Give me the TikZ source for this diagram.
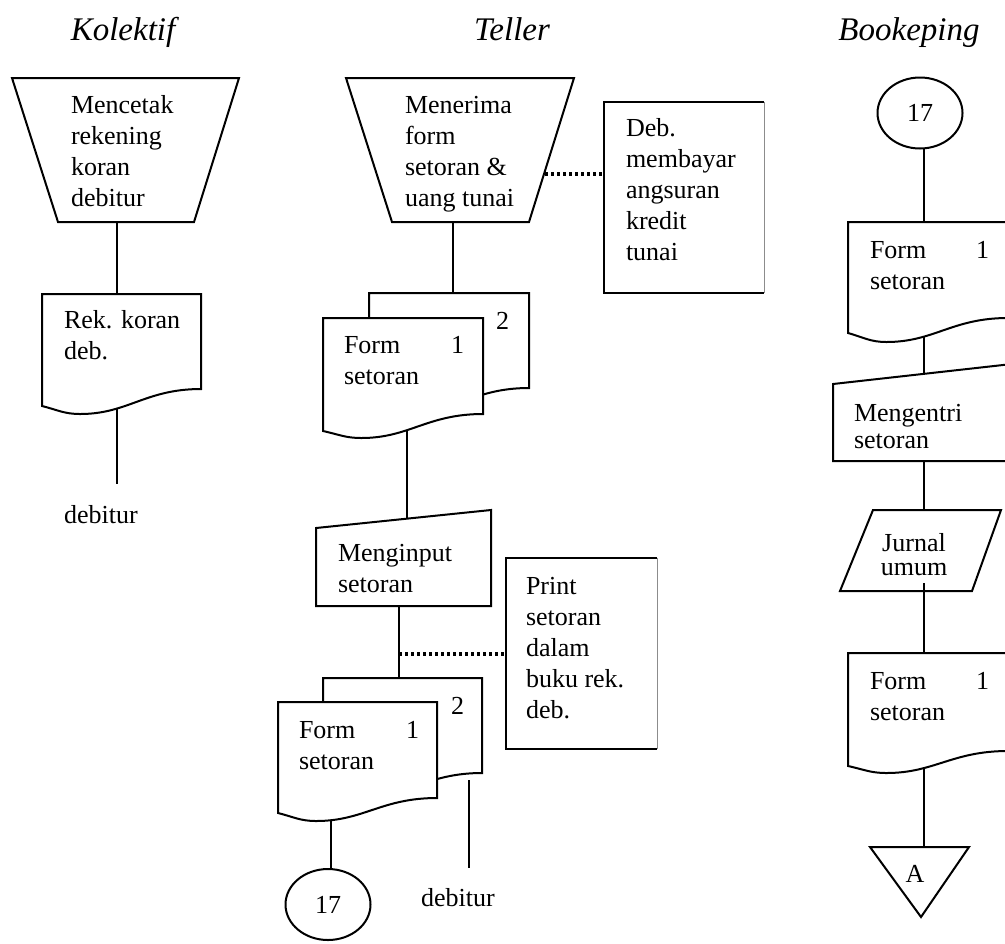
\documentclass[tikz,border=0pt]{standalone}
\usepackage{fontspec}
\setmainfont{Liberation Serif}
\usetikzlibrary{shapes.geometric,calc}
\newcommand\body{\fontsize{13}{15.5}\selectfont}
\newcommand\head{\fontsize{16.5}{18}\selectfont\itshape}
\newcommand\fl{\rule{0pt}{10pt}}
% document symbol: left, top, right, y right foot, y left foot, y lowest point
\newcommand\flowdoc[6]{%
  \pgfmathsetmacro\fdw{#3-#1}%
  \pgfmathsetmacro\fdm{#1+0.24*\fdw}%
  \draw[symb] (#1,#5) -- (#1,#2) -- (#3,#2) -- (#3,#4)
    .. controls ({#3-0.35*\fdw},#4) and ({\fdm+0.3*\fdw},#6) .. (\fdm,#6)
    .. controls ({\fdm-0.1*\fdw},#6) and ({#1+0.1*\fdw},{#5+0.5*(#6-#5)}) .. cycle;}
% note box whose right side is a faint hairline: left, top, right, bottom
\newcommand\notebox[4]{%
  \fill[white] (#1,#2) rectangle (#3,#4);
  \draw[line width=1pt] (#3,#2) -- (#1,#2) -- (#1,#4) -- (#3,#4);
  \draw[line width=0.4pt,black!45] (#3,#2) -- (#3,#4);}
\begin{document}
\begin{tikzpicture}[x=0.5pt,y=-0.5pt,line width=1pt,
  symb/.style={draw,fill=white,line width=1pt},
  tx/.style={anchor=north west,inner sep=0pt,align=left,font=\body},
  hd/.style={anchor=base,inner sep=0pt,font=\head},
  conn/.style={line width=1pt},
  link/.style={line width=1.6pt,dash pattern=on 1.6pt off 1.4pt},
  ell/.style={draw,ellipse,fill=white,minimum width=42.5pt,minimum height=35.5pt,inner sep=0pt,font=\body}]
\useasboundingbox (0,0) rectangle (1005,943);

% column headings
\node[hd] (hKol) at (123,40) {Kolektif};
\node[hd] (hTel) at (512,40) {Teller};
\node[hd] (hBok) at (909,40) {Bookeping};

% ports of the symbols
\coordinate (kTrapB) at (117,222);
\coordinate (kDocT) at (117,294);
\coordinate (kDocB) at (117,405);
\coordinate (kEnd) at (117,484);
\coordinate (tTrapB) at (453,222);
\coordinate (tTrapR) at (545,174);
\coordinate (tNote1L) at (604,174);
\coordinate (tDocT) at (453,293);
\coordinate (tDocB) at (407,430);
\coordinate (tInT) at (407,518);
\coordinate (tInB) at (399,606);
\coordinate (tTap) at (399,654);
\coordinate (tNote2L) at (506,654);
\coordinate (tDoc2T) at (399,678);
\coordinate (tDoc2B) at (331,815);
\coordinate (tCirT) at (331,869);
\coordinate (tBack2B) at (469,780);
\coordinate (tEnd) at (469,868);
\coordinate (bC) at (924,140);
\coordinate (bDocT) at (924,222);
\coordinate (bDocB) at (924,335);
\coordinate (bEnT) at (924,374);
\coordinate (bEnB) at (924,461);
\coordinate (bJuT) at (924,510);
\coordinate (bJuIn) at (924,583);
\coordinate (bDoc2T) at (924,653);
\coordinate (bDoc2B) at (924,765);
\coordinate (bTriT) at (924,847);

% connectors (drawn first, symbols cover their ends)
\draw[conn] (kTrapB) -- (kDocT);
\draw[conn] (kDocB) -- (kEnd);
\draw[conn] (tTrapB) -- (tDocT);
\draw[conn] (tDocB) -- (tInT);
\draw[conn] (tInB) -- (tDoc2T);
\draw[conn] (tDoc2B) -- (tCirT);
\draw[conn] (tBack2B) -- (tEnd);
\draw[conn] (bC) -- (bDocT);
\draw[conn] (bDocB) -- (bEnT);
\draw[conn] (bEnB) -- (bJuT);
\draw[conn] (bDoc2B) -- (bTriT);

% Kolektif
\draw[symb] (12,78) -- (239,78) -- (194,222) -- (58,222) -- cycle;
\flowdoc{42}{294}{201}{389}{406}{414}

% Teller
\draw[symb] (346,78) -- (574,78) -- (529,222) -- (392,222) -- cycle;
\notebox{604}{102}{764}{293}
\flowdoc{369}{293}{529}{388}{406}{413}
\flowdoc{323}{318}{483}{414}{431}{438}
\draw[symb] (316,528) -- (491,510) -- (491,606) -- (316,606) -- cycle;
\notebox{506}{558}{657}{749}
\flowdoc{323}{678}{482}{773}{789}{797}
\flowdoc{278}{702}{437}{798}{813}{821}
\node[ell] (c17t) at (328,904.5) {17};

% Bookeping
\node[ell] (c17b) at (920,113) {17};
\flowdoc{848}{222}{1008}{318}{333}{342}
\draw[symb] (833,384) -- (1012,364) -- (1012,461) -- (833,461) -- cycle;
\draw[symb] (873,510) -- (1001,510) -- (972,591) -- (840,591) -- cycle;
\flowdoc{848}{653}{1008}{751}{766}{773}
\draw[symb] (870,847) -- (969,847) -- (921,917) -- cycle;
\draw[conn] (bJuIn) -- (bDoc2T);

% dotted links to the notes
\draw[link] (tTrapR) -- (tNote1L);
\draw[link] (tTap) -- (tNote2L);

% texts
\node[tx] (kTrap) at (70,92) {\fl Mencetak\\rekening\\koran\\debitur};
\node[tx] (kDoc) at (63,307) {\fl Rek. koran\\deb.};
\node[tx] (kDeb) at (63,502) {\fl debitur};
\node[tx] (tTrap) at (404,92) {\fl Menerima\\form\\setoran \&\\uang tunai};
\node[tx] (tNote1) at (625,115) {\fl Deb.\\membayar\\angsuran\\kredit\\tunai};
\node[tx] (tDoc) at (343,332) {\fl Form\\setoran};
\node[tx] (tDocN1) at (450,332) {\fl 1};
\node[tx] (tDocN2) at (495,308) {\fl 2};
\node[tx] (tIn) at (337,540) {\fl Menginput\\setoran};
\node[tx] (tNote2) at (525,573) {\fl Print\\setoran\\dalam\\buku rek.\\deb.};
\node[tx] (tDoc2) at (298,717) {\fl Form\\setoran};
\node[tx] (tDoc2N1) at (405,717) {\fl 1};
\node[tx] (tDoc2N2) at (450,693) {\fl 2};
\node[tx] (tDeb) at (420,885) {\fl debitur};
\node[tx] (bDoc) at (869,237) {\fl Form\\setoran};
\node[tx] (bDocN1) at (975,237) {\fl 1};
\node[tx,font=\fontsize{13}{13.5}\selectfont] (bEn) at (853,400) {\fl Mengentri\\setoran};
\node[tx,anchor=north,align=center,font=\fontsize{13}{12}\selectfont] (bJu) at (914,530) {\fl Jurnal\\umum};
\node[tx] (bDoc2) at (869,668) {\fl Form\\setoran};
\node[tx] (bDoc2N1) at (975,668) {\fl 1};
\node[inner sep=0pt,font=\body] (bA) at (915,874) {A};
\end{tikzpicture}
\end{document}
